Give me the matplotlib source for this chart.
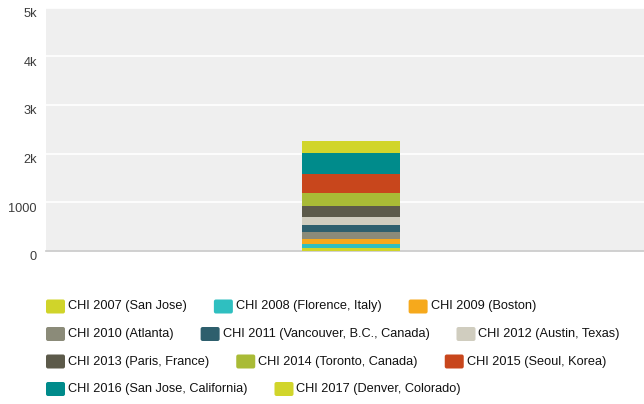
import matplotlib
matplotlib.use("Agg")
import matplotlib.pyplot as plt
from matplotlib.patches import FancyBboxPatch
from matplotlib.transforms import IdentityTransform, ScaledTranslation

plt.rcParams['font.family'] = ['Liberation Sans', 'DejaVu Sans']

# data
conferences = ['CHI 2007 (San Jose)', 'CHI 2008 (Florence, Italy)', 'CHI 2009 (Boston)',
               'CHI 2010 (Atlanta)', 'CHI 2011 (Vancouver, B.C., Canada)', 'CHI 2012 (Austin, Texas)',
               'CHI 2013 (Paris, France)', 'CHI 2014 (Toronto, Canada)', 'CHI 2015 (Seoul, Korea)',
               'CHI 2016 (San Jose, California)', 'CHI 2017 (Denver, Colorado)']
values = [60, 80, 100, 145, 145, 165, 225, 265, 405, 420, 245]
colors = ['#d0d42a', '#2fbfc0', '#f6a91c', '#8b8b79', '#2e5f6d', '#d0cdbf',
          '#5c5a4a', '#a9bb36', '#c8461c', '#008b8b', '#d1d52b']
yticks = [0, 1000, 2000, 3000, 4000, 5000]
ytick_labels = ['0', '1000', '2k', '3k', '4k', '5k']

W, H = 644, 404
fig = plt.figure(figsize=(W/100, H/100), dpi=100)
ax = fig.add_axes([46/W, (H-251)/H, (W-46)/W, (251-7.5)/H])
ax.set_facecolor('#efefef')

bottom = 0
for lab, v, c in zip(conferences, values, colors):
    ax.bar(0, v, width=0.16, bottom=bottom, color=c, zorder=3, linewidth=0)
    bottom += v

ax.set_xlim(-0.5, 0.48)
ax.set_ylim(0, 5000)
ax.set_yticks(yticks)
ax.set_yticklabels(ytick_labels)
ax.set_xticks([])
ax.yaxis.grid(True, color='white', linewidth=1.2)
ax.set_axisbelow(True)
for s in ['top', 'right', 'left']:
    ax.spines[s].set_visible(False)
ax.spines['bottom'].set_color('#c8c8c8')
ax.spines['bottom'].set_linewidth(1.2)
ax.tick_params(axis='y', length=0, pad=6.5, labelsize=9.2, labelcolor='#3c3c3c')
off = ScaledTranslation(0, -0.05, fig.dpi_scale_trans)
for t in ax.get_yticklabels():
    t.set_transform(t.get_transform() + off)

# legend, laid out row by row
rows = [[0, 1, 2], [3, 4, 5], [6, 7, 8], [9, 10]]
row_y = [306.5, 334, 361.5, 389]
fig.canvas.draw()
renderer = fig.canvas.get_renderer()
for row, y in zip(rows, row_y):
    x = 46
    for i in row:
        sw = FancyBboxPatch((x, H - y - 7), 19, 14, boxstyle='round,pad=0,rounding_size=2',
                            transform=IdentityTransform(), facecolor=colors[i], edgecolor='none')
        fig.add_artist(sw)
        t = fig.text(x + 22, H - y, conferences[i], transform=IdentityTransform(),
                     va='center', ha='left', fontsize=9.2, color='#111111')
        x = x + 22 + t.get_window_extent(renderer).width + 27

fig.savefig('out.png', dpi=100)
